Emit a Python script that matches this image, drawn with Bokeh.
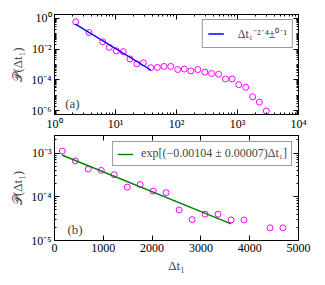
from bokeh.plotting import figure
from bokeh.models import (FixedTicker, LogAxis, LinearAxis, CustomJSTickFormatter,
                          Legend, LegendItem, Label)
from bokeh.layouts import column
from bokeh.embed import file_html
from bokeh.resources import INLINE

# ---- panel (a): log-log distribution ----
a_x = [2.23, 3.68, 6.15, 7.9, 10.3, 13.4, 17.2, 22.4, 28.7, 37.9, 48.6, 62.5, 80.4,
       104.6, 134, 172.5, 224, 292, 376, 489, 635, 815, 1047, 1364, 1775, 2281, 2970]
a_y = [5.9e-1, 1.2e-1, 3.0e-2, 1.3e-2, 7.8e-3, 6.8e-3, 2.3e-3, 1.1e-3, 1.3e-3, 6.2e-4,
       6.5e-4, 7.5e-4, 7.5e-4, 4.7e-4, 5.1e-4, 3.8e-4, 4.7e-4, 3.2e-4, 2.6e-4, 2.3e-4,
       1.15e-4, 1.15e-4, 4.9e-5, 3.3e-5, 7.9e-6, 3.6e-6, 9.5e-7]
a_fit_x = [2.2, 37.9]
a_fit_y = [4.2e-1, 4.4e-4]
a_legend = "Δt₁⁻²˙⁴±⁰˙¹"

# ---- panel (b): semi-log distribution ----
b_x = [160, 426, 692, 958, 1224, 1490, 1756, 2022, 2288, 2554, 2820, 3086, 3352,
       3618, 3884, 4416, 4682]
b_y = [1.11e-3, 6.6e-4, 4.3e-4, 4.0e-4, 3.2e-4, 1.66e-4, 1.9e-4, 1.35e-4, 1.24e-4,
       5.0e-5, 3.0e-5, 4.0e-5, 4.0e-5, 2.95e-5, 2.95e-5, 1.95e-5, 1.95e-5]
b_fit_x = [150, 3620]
b_fit_y = [9.0e-4, 2.4e-5]
b_legend = "exp[(−0.00104 ± 0.00007)Δt₁]"

a_xticks = [1, 10, 100, 1000, 10000]
a_yticks = [1e-6, 1e-4, 1e-2, 1]
b_xticks = [0, 1000, 2000, 3000, 4000, 5000]
b_yticks = [1e-5, 1e-4, 1e-3]
ylabel = "𝒫(Δt₁)"
xlabel = "Δt₁"

SERIF = "Liberation Serif"
TICK_FS = "12px"

fmt_code = """
const sup = {'-':'⁻','0':'⁰','1':'¹','2':'²','3':'³','4':'⁴','5':'⁵','6':'⁶','7':'⁷','8':'⁸','9':'⁹'};
const e = Math.round(Math.log10(tick));
return '10' + String(e).split('').map(c => sup[c]).join('');
"""


def minor_log(lo, hi):
    out = []
    for d in range(lo, hi):
        for m in range(2, 10):
            out.append(m * 10.0 ** d)
    return out


def style_axis(ax, labels=True):
    ax.major_tick_in = 5
    ax.major_tick_out = 0
    ax.minor_tick_in = 2
    ax.minor_tick_out = 0
    ax.axis_line_color = "black"
    ax.major_tick_line_color = "black"
    ax.minor_tick_line_color = "black"
    ax.major_label_text_font = SERIF
    ax.major_label_text_font_size = TICK_FS
    ax.major_label_text_color = "black"
    ax.major_label_standoff = 3
    ax.axis_label_text_font = SERIF
    ax.axis_label_text_font_style = "normal"
    ax.axis_label_text_font_size = "13px"
    ax.axis_label_standoff = 3
    if not labels:
        ax.major_label_text_alpha = 0
        ax.major_label_text_font_size = "1px"
        ax.major_label_standoff = 0


def base_fig(height, x_type, xr, yr, border_top, border_bottom, border_right):
    p = figure(width=325, height=height, x_axis_type=x_type, y_axis_type="log",
               x_range=xr, y_range=yr, output_backend="svg", toolbar_location=None,
               min_border_left=54, min_border_right=border_right,
               min_border_top=border_top, min_border_bottom=border_bottom)
    p.xgrid.visible = False
    p.ygrid.visible = False
    p.outline_line_color = "black"
    p.outline_line_width = 1
    p.background_fill_color = "white"
    p.border_fill_color = "white"
    return p


# ---------- panel (a) ----------
pa = base_fig(133, "log", (1, 1e4), (10 ** -6.25, 10 ** 0.25), 14, 15, 26)
xt_a = FixedTicker(ticks=a_xticks, minor_ticks=minor_log(0, 4))
yt_a = FixedTicker(ticks=a_yticks, minor_ticks=[10.0 ** d for d in range(-7, 1)] + minor_log(-7, 1))
pa.xaxis.ticker = xt_a
pa.yaxis.ticker = yt_a
pa.xaxis.formatter = CustomJSTickFormatter(code=fmt_code)
pa.yaxis.formatter = CustomJSTickFormatter(code=fmt_code)
pa.yaxis.axis_label = ylabel
for ax in pa.xaxis + pa.yaxis:
    style_axis(ax)
pa.xaxis.major_label_standoff = 2
ra = LogAxis(ticker=yt_a)
ta = LogAxis(ticker=xt_a)
style_axis(ra, labels=False)
style_axis(ta, labels=False)
pa.add_layout(ra, "right")
pa.add_layout(ta, "above")

pa.scatter(a_x, a_y, marker="circle", size=6, fill_color=None,
           line_color="#ff00ff", line_width=1)
la = pa.line(a_fit_x, a_fit_y, line_color="#0000ff", line_width=1.4)
leg_a = Legend(items=[LegendItem(label=a_legend, renderers=[la])],
               location="top_right", margin=5, padding=5,
               glyph_width=16, glyph_height=13, label_height=13, label_standoff=14,
               label_text_font=SERIF, label_text_font_size="12px",
               border_line_color="#333333", border_line_width=1,
               background_fill_alpha=1)
pa.add_layout(leg_a)
pa.add_layout(Label(x=1.5, y=2.75e-6, text="(a)", text_font=SERIF,
                    text_font_size="13px", text_baseline="middle"))

# ---------- panel (b) ----------
pb = base_fig(152, "linear", (0, 5000), (1e-5, 10 ** -2.6), 2, 45, 27)
xt_b = FixedTicker(ticks=b_xticks)
yt_b = FixedTicker(ticks=b_yticks, minor_ticks=minor_log(-5, -2))
pb.xaxis.ticker = xt_b
pb.yaxis.ticker = yt_b
pb.yaxis.formatter = CustomJSTickFormatter(code=fmt_code)
pb.xaxis.axis_label = xlabel
pb.yaxis.axis_label = ylabel
for ax in pb.xaxis + pb.yaxis:
    style_axis(ax)
rb = LogAxis(ticker=yt_b)
tb = LinearAxis(ticker=xt_b)
style_axis(rb, labels=False)
style_axis(tb, labels=False)
pb.add_layout(rb, "right")
pb.add_layout(tb, "above")

pb.scatter(b_x, b_y, marker="circle", size=6, fill_color=None,
           line_color="#ff00ff", line_width=1)
lb = pb.line(b_fit_x, b_fit_y, line_color="#007f00", line_width=1.4)
leg_b = Legend(items=[LegendItem(label=b_legend, renderers=[lb])],
               location="top_right", margin=6, padding=4,
               glyph_width=16, glyph_height=14, label_height=14, label_standoff=8,
               label_text_font=SERIF, label_text_font_size="12px",
               border_line_color="#333333", border_line_width=1,
               background_fill_alpha=1)
pb.add_layout(leg_b)
pb.add_layout(Label(x=266, y=1.78e-5, text="(b)", text_font=SERIF,
                    text_font_size="13px", text_baseline="middle"))

layout = column(pa, pb, spacing=0)
open("out.html", "w").write(file_html(layout, INLINE))
